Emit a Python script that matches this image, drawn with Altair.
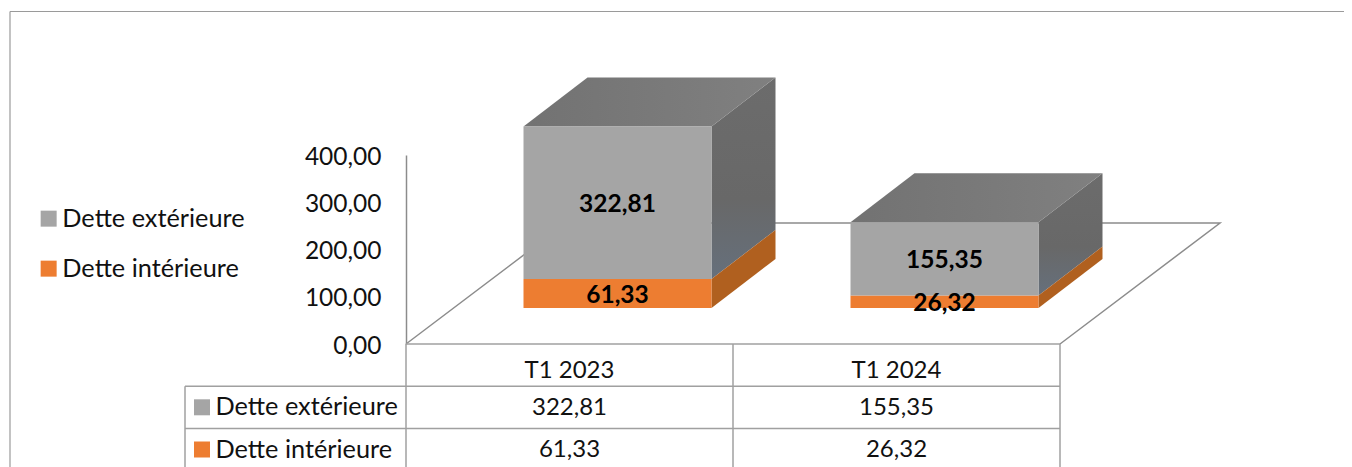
import altair as alt
import pandas as pd

categories = ["T1 2023", "T1 2024"]
series_names = ["Dette extérieure", "Dette intérieure"]
exterieure = [322.81, 155.35]
interieure = [61.33, 26.32]
axis_values = [0, 100, 200, 300, 400]

FONT = "Lato"
FS_NUM = 24.5
FS_TXT = 25.3
C_GRAY, C_ORANGE = "#A5A5A5", "#ED7D31"
S_ORANGE = "#B0601F"
FLOOR = "#8C8C8C"
GRID = "#A0A0A0"
S_GRAY = alt.Gradient(gradient="linear", x1=0, y1=0, x2=0, y2=1,
                      stops=[alt.GradientStop(offset=0, color="#6C6C6C"),
                             alt.GradientStop(offset=0.6, color="#686868"),
                             alt.GradientStop(offset=1, color="#66707C")])
T_GRAY = alt.Gradient(gradient="linear", x1=0, y1=0, x2=1, y2=0,
                      stops=[alt.GradientStop(offset=0, color="#727272"),
                             alt.GradientStop(offset=1, color="#808080")])

PLOT_W, PLOT_H = 654, 189
UX = PLOT_W / 2            # pixels per category
UY = PLOT_H / 400          # pixels per value unit
def dx(p): return p / UX
def dy(p): return p / UY

BAR_LEFT = dx(117.5)
BAR_W = dx(188)
BASE = dy(36)
DEPTH_X, DEPTH_Y = dx(64), dy(49)
FLOOR_X, FLOOR_Y = dx(160), dy(121)
ROW = dy(42.2)

front, side_g, side_o, top, labels = [], [], [], [], []
for i, cat in enumerate(categories):
    x0 = i + BAR_LEFT
    x1 = x0 + BAR_W
    o = interieure[i]
    e = exterieure[i]
    front.append(dict(serie=series_names[1], x=x0, x2=x1, y=BASE, y2=BASE + o))
    front.append(dict(serie=series_names[0], x=x0, x2=x1, y=BASE + o, y2=BASE + o + e))
    for t in (0, 1):
        side_o.append(dict(bar=cat, x=x1 + t * DEPTH_X, y=BASE + t * DEPTH_Y, y2=BASE + o + t * DEPTH_Y))
        side_g.append(dict(bar=cat, x=x1 + t * DEPTH_X, y=BASE + o + t * DEPTH_Y, y2=BASE + o + e + t * DEPTH_Y))
        top.append(dict(bar=cat, x=x0 + t * DEPTH_X, x2=x1 + t * DEPTH_X, y=BASE + o + e + t * DEPTH_Y))
    lx = (x0 + x1) / 2
    labels.append(dict(x=lx, y=BASE + o / 2, t=f"{o:.2f}".replace(".", ",")))
    labels.append(dict(x=lx, y=BASE + o + e / 2, t=f"{e:.2f}".replace(".", ",")))

# table cells
cells = []
for i, cat in enumerate(categories):
    cells.append(dict(x=i + 0.5, y=-ROW * 0.58 - dy(2.5), t=cat))
    cells.append(dict(x=i + 0.5, y=-ROW * 1.5 - dy(1), t=f"{exterieure[i]:.2f}".replace(".", ",")))
    cells.append(dict(x=i + 0.5, y=-ROW * 2.5, t=f"{interieure[i]:.2f}".replace(".", ",")))
KEY_X = dx(-204)
TXT_X = dx(-190.5)
keys = [dict(serie=series_names[0], x=KEY_X, y=-ROW * 1.5), dict(serie=series_names[1], x=KEY_X, y=-ROW * 2.5)]
rowtxt = [dict(x=TXT_X, y=-ROW * 1.5, t=series_names[0]), dict(x=TXT_X, y=-ROW * 2.5, t=series_names[1])]

TBL_LEFT = dx(-221)
BOTTOM = -ROW * 4
hlines = [dict(x=0, x2=2, y=0), dict(x=TBL_LEFT, x2=2, y=-ROW), dict(x=TBL_LEFT, x2=2, y=-ROW * 2)]
vlines = [dict(x=TBL_LEFT, y=-ROW, y2=BOTTOM), dict(x=0, y=0, y2=BOTTOM),
          dict(x=1, y=0, y2=BOTTOM), dict(x=2, y=0, y2=BOTTOM)]
frame_h = [dict(x=dx(-396), x2=dx(960), y=dy(332.5))]
frame_v = [dict(x=dx(-396), y=dy(332.5), y2=BOTTOM)]

# floor pieces hidden behind the boxes are covered by them
floor = [
    dict(k="a", o=0, x=0, y=0), dict(k="a", o=1, x=FLOOR_X, y=FLOOR_Y),
    dict(k="a", o=2, x=2 + FLOOR_X, y=FLOOR_Y), dict(k="a", o=3, x=2, y=0),
]

yscale = alt.Scale(domain=[0, 400], nice=False, zero=False)
xscale = alt.Scale(domain=[0, 2], nice=False, zero=False)
yaxis = alt.Axis(values=axis_values, title=None, grid=False, ticks=False, labelPadding=25, labelOffset=2,
                 labelFont=FONT, labelFontSize=FS_NUM, labelColor="#111111", domainColor=FLOOR, domainWidth=1.5,
                 labelExpr="replace(format(datum.value,'.2f'),'.',',')", labelOverlap=False)
X = lambda f="x": alt.X(f"{f}:Q", scale=xscale, axis=None)
Y = lambda f="y": alt.Y(f"{f}:Q", scale=yscale, axis=yaxis)
color = alt.Color("serie:N", scale=alt.Scale(domain=series_names, range=[C_GRAY, C_ORANGE]),
                  legend=alt.Legend(orient="none", legendX=-370, legendY=51, title=None, symbolType="square",
                                    symbolSize=256, symbolStrokeWidth=0, labelFont=FONT, labelFontSize=FS_TXT,
                                    labelColor="#111111", rowPadding=24, labelOffset=1, labelLimit=300,
                                    values=series_names))

def D(rows): return alt.Data(values=rows)

layers = [
    alt.Chart(D(frame_h)).mark_rule(color="#9A9A9A", strokeWidth=1.2).encode(x=X(), x2="x2:Q", y=Y()),
    alt.Chart(D(frame_v)).mark_rule(color="#9A9A9A", strokeWidth=1.2).encode(x=X(), y=Y(), y2="y2:Q"),
    alt.Chart(D(floor)).mark_line(color=FLOOR, strokeWidth=1.5).encode(x=X(), y=Y(), order="o:Q"),
    alt.Chart(D(hlines)).mark_rule(color=GRID, strokeWidth=1.5).encode(x=X(), x2="x2:Q", y=Y()),
    alt.Chart(D(vlines)).mark_rule(color=GRID, strokeWidth=1.5).encode(x=X(), y=Y(), y2="y2:Q"),
    alt.Chart(D(side_g)).mark_area(color=S_GRAY).encode(x=X(), y=Y(), y2="y2:Q", detail="bar:N"),
    alt.Chart(D(side_o)).mark_area(color=S_ORANGE).encode(x=X(), y=Y(), y2="y2:Q", detail="bar:N"),
    alt.Chart(D(top)).mark_area(color=T_GRAY, orient="horizontal").encode(x=X(), x2="x2:Q", y=Y(), detail="bar:N"),
    alt.Chart(D(front)).mark_rect().encode(x=X(), x2="x2:Q", y=Y(), y2="y2:Q", color=color),
    alt.Chart(D(labels)).mark_text(font=FONT, fontSize=FS_NUM, fontWeight="bold", color="#000000",
                                   baseline="middle", dy=2.5)
        .encode(x=X(), y=Y(), text="t:N"),
    alt.Chart(D(cells)).mark_text(font=FONT, fontSize=FS_NUM - 0.5, color="#111111", baseline="middle")
        .encode(x=X(), y=Y(), text="t:N"),
    alt.Chart(D(rowtxt)).mark_text(font=FONT, fontSize=FS_TXT, color="#111111", baseline="middle", align="left")
        .encode(x=X(), y=Y(), text="t:N"),
    alt.Chart(D(keys)).mark_square(size=256, opacity=1, strokeWidth=0).encode(x=X(), y=Y(), color=color),
]

chart = alt.layer(*layers).properties(
    width=PLOT_W, height=PLOT_H,
    autosize=alt.AutoSizeParams(type="none"),
    padding={"left": 398, "top": 147, "right": 284, "bottom": 123},
    background="white",
).configure_view(stroke=None)

chart.save("out.html", embed_options={"renderer": "svg", "actions": False})
